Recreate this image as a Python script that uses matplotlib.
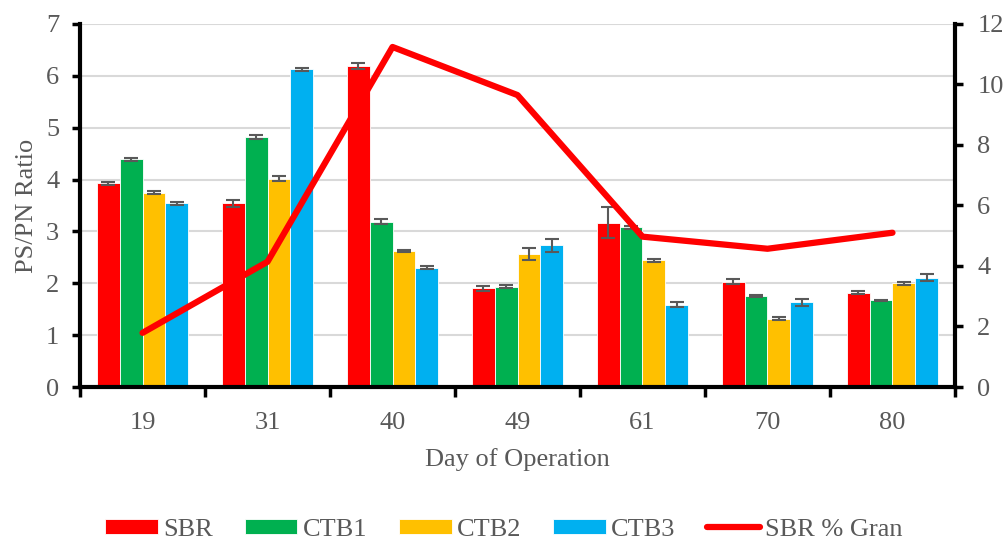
import numpy as np
import matplotlib.pyplot as plt

# PS/PN ratio per reactor, by day of operation
days = ["19", "31", "40", "49", "61", "70", "80"]
sbr = [3.93, 3.54, 6.19, 1.90, 3.17, 2.03, 1.82]
ctb1 = [4.39, 4.82, 3.19, 1.93, 3.08, 1.76, 1.67]
ctb2 = [3.75, 4.02, 2.62, 2.56, 2.44, 1.32, 2.00]
ctb3 = [3.54, 6.13, 2.30, 2.73, 1.59, 1.63, 2.11]

sbr_err = [0.03, 0.07, 0.05, 0.04, 0.30, 0.05, 0.03]
ctb1_err = [0.03, 0.03, 0.04, 0.03, 0.03, 0.02, 0.01]
ctb2_err = [0.02, 0.04, 0.02, 0.12, 0.02, 0.03, 0.03]
ctb3_err = [0.03, 0.03, 0.03, 0.13, 0.04, 0.06, 0.07]

# SBR granulation (%), secondary axis
sbr_gran = [1.79, 4.14, 11.24, 9.65, 4.97, 4.57, 5.10]

plt.rcParams["font.family"] = ["Liberation Serif", "DejaVu Serif"]
TXT = "#595959"
FS = 19

fig = plt.figure(figsize=(10.08, 5.39), dpi=100)
ax = fig.add_axes([0.0794, 0.282, 0.868, 0.6735])

x = np.arange(len(days))
w = 0.183
series = [
    ("SBR", sbr, sbr_err, "#FF0000"),
    ("CTB1", ctb1, ctb1_err, "#00B050"),
    ("CTB2", ctb2, ctb2_err, "#FFC000"),
    ("CTB3", ctb3, ctb3_err, "#00B0F0"),
]
handles = []
for i, (name, vals, err, col) in enumerate(series):
    pos = x + (i - 1.5) * w
    b = ax.bar(pos, vals, width=w, color=col, edgecolor="#ffffff", linewidth=0.6,
               label=name, zorder=2)
    ax.errorbar(pos, vals, yerr=err, fmt="none", ecolor="#595959",
                elinewidth=1.5, capsize=5, capthick=1.5, zorder=3)
    handles.append(b)

ax.set_xlim(-0.5, len(days) - 0.5)
ax.set_ylim(0, 7)
ax.set_yticks(range(0, 8))
ax.set_xticks(x)
ax.set_xticklabels(days)
ax.set_xticks(np.arange(-0.5, len(days)), minor=True)
ax.tick_params(axis="x", which="major", length=0, pad=18)
ax.tick_params(axis="x", which="minor", length=7, width=2.5, color="black")
ax.tick_params(axis="y", length=6, width=2.5, color="black", pad=9)
ax.tick_params(labelsize=FS, labelcolor=TXT)
ax.grid(axis="y", color="#d9d9d9", linewidth=1.5, zorder=0)
ax.set_axisbelow(True)
for s in ["top", "right"]:
    ax.spines[s].set_visible(False)
for s in ["left", "bottom"]:
    ax.spines[s].set_linewidth(3)
ax.set_ylabel("PS/PN Ratio", fontsize=FS, color=TXT, labelpad=6)
ax.set_xlabel("Day of Operation", fontsize=FS, color=TXT, labelpad=10)

ax2 = ax.twinx()
line, = ax2.plot(x, sbr_gran, color="#FF0000", linewidth=4.5,
                 solid_capstyle="round", label="SBR % Gran", zorder=4)
ax2.set_ylim(0, 12)
ax2.set_yticks(range(0, 13, 2))
ax2.tick_params(axis="y", length=6, width=2.5, color="black", pad=10,
                labelsize=FS, labelcolor=TXT)
for s in ["top", "left", "bottom"]:
    ax2.spines[s].set_visible(False)
ax2.spines["right"].set_linewidth(3)

fig.legend(handles + [line], [h.get_label() for h in handles] + ["SBR % Gran"],
           loc="lower center", bbox_to_anchor=(0.5, -0.047), ncol=5,
           frameon=False, fontsize=FS, labelcolor=TXT, handlelength=2.0,
           handleheight=0.5, columnspacing=1.2, handletextpad=0.2)

fig.savefig("out.png", dpi=100)
